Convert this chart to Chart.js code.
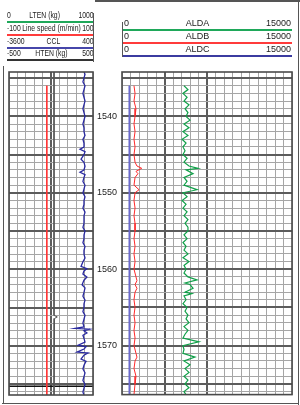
<!DOCTYPE html>
<html><head><meta charset="utf-8">
<script src="https://cdn.jsdelivr.net/npm/chart.js@4"></script>
<style>
html,body{margin:0;padding:0;background:#fff;}
#wrap{position:relative;width:300px;height:405px;overflow:hidden;font-family:"Liberation Sans",Arial,sans-serif;color:#222;}
canvas{position:absolute;left:0;top:0;}
.ln{position:absolute;}
.row{position:absolute;display:flex;justify-content:space-between;white-space:nowrap;}
</style></head>
<body><div id="wrap">
<canvas id="c1" width="300" height="405"></canvas>
<canvas id="c2" width="300" height="405"></canvas>
<div id="hdr"></div>
</div>
<script>
// ---------- DATA ----------
const depthMin = 1534.2, depthMax = 1576.4;
const depthLabels = [1540, 1550, 1560, 1570];

// left track header
const leftNames = ["LTEN (kg)", "Line speed (m/min)", "CCL", "HTEN (kg)"];
const leftMins  = ["0", "-100", "-3600", "-500"];
const leftMaxs  = ["1000", "100", "400", "500"];
// right track header
const rightNames = ["ALDA", "ALDB", "ALDC"];
const rightMins  = ["0", "0", "0"];
const rightMaxs  = ["15000", "15000", "15000"];

// CCL (-3600..400)
const cclDepth = [1534.2,1534.5,1535,1535.5,1536,1536.5,1537,1537.5,1538,1538.5,1539,1539.5,1540,1540.5,1541,1541.5,1542,1542.5,1543,1543.5,1544,1544.3,1544.6,1545,1545.6,1546,1546.5,1547,1547.3,1547.6,1548,1548.5,1549,1549.5,1550,1550.5,1551,1551.5,1552,1552.5,1553,1554,1554.5,1555,1555.5,1556,1556.5,1557,1557.5,1558,1558.5,1559,1559.6,1559.9,1560.2,1560.6,1561,1561.4,1562,1562.4,1563,1563.5,1564,1564.5,1565,1565.5,1566,1566.5,1567,1567.5,1567.7,1567.8,1568,1568.3,1568.6,1569,1569.5,1569.9,1570.1,1570.4,1570.8,1570.9,1571.2,1571.7,1572,1572.5,1573,1573.5,1574,1574.5,1575,1575.5,1576,1576.4];
const cclVal   = [-30,20,-30,-80,20,-30,-80,-30,20,-30,-80,-30,20,-30,-80,-30,-30,20,-80,-30,-30,-220,20,-30,-170,-30,20,-30,-220,20,-30,-80,20,-30,-80,20,-30,-30,-80,20,-30,-30,-80,20,-30,-30,-80,20,-30,-30,20,-80,-170,110,-30,-80,110,-30,-120,20,-30,-80,20,-30,-30,-80,20,-30,-80,-30,-460,260,-30,110,-80,-30,20,-310,70,-30,-360,160,-30,-170,70,-30,-80,20,-30,-80,20,-30,-80,-30];

// Line speed (-100..100)
const lsDepth = [1536, 1576.4];
const lsVal   = [-10, -10];

// HTEN (-500..500)
const htDepth = [1534.2, 1566.0, 1566.2, 1566.4, 1576.4];
const htVal   = [36, 36, 75, 42, 36];

// TD marker depth
const markerDepth = [1575.25];

// ALDA (0..15000)
const aldaDepth = [1536,1536.5,1537,1537.5,1538,1538.5,1539,1539.5,1540,1540.5,1541,1541.5,1542,1542.5,1543,1543.5,1544,1544.5,1545,1545.5,1546,1546.5,1546.8,1547,1547.5,1548,1548.5,1549,1549.6,1550,1550.5,1551,1551.5,1552,1552.5,1553,1553.5,1554,1554.5,1555,1555.5,1556,1556.5,1557,1557.5,1558,1558.5,1559,1559.5,1560,1560.5,1561,1561.4,1561.8,1562,1562.5,1563,1563.2,1563.5,1564,1564.5,1565,1565.5,1566,1566.5,1567,1567.5,1568,1568.5,1569,1569.5,1570,1570.5,1571,1571.5,1572,1572.5,1573,1573.5,1574,1574.5,1575,1575.5,1576,1576.4];
const aldaVal   = [5470,5820,5380,5740,5470,5910,5560,5820,5650,6000,5470,5910,5380,5820,5300,5650,5380,5560,5380,5740,5470,5910,6710,5650,6270,5470,5740,5470,6620,5380,5740,5300,5650,5380,5740,5470,5820,5560,5820,5820,5470,5740,5380,5650,5470,5820,5380,5910,5470,5650,5470,5820,6620,5560,6000,6270,5560,6180,5470,5650,5380,5740,5560,5820,5650,5910,5470,5820,5560,5380,6790,5380,5470,5380,6440,5470,6000,5560,5910,5470,5820,5560,5910,5470,5650];

// ALDB (0..15000)
const aldbDepth = [1536,1537,1538,1539,1540,1541,1542,1543,1544,1545,1546,1546.5,1546.8,1547.2,1547.5,1548,1549,1549.6,1550,1551,1552,1553,1554,1555,1556,1557,1558,1559,1560,1561,1561.5,1562,1562.5,1563,1564,1565,1566,1567,1568,1569,1570,1571,1571.5,1572,1573,1574,1575,1576.4];
const aldbVal   = [1060,1150,1060,1235,1150,1060,1150,1060,1150,1060,1150,1320,1740,1235,1410,1150,1060,1500,1150,1060,1150,1060,1150,1150,1060,1150,1060,1150,1060,1235,1320,1150,1320,1150,1060,1150,1060,1150,1060,1150,1060,1235,1320,1150,1060,1235,1150,1060];

// ALDC (0..15000)
const aldcDepth = [1536, 1550, 1560, 1576.4];
const aldcVal   = [640, 650, 640, 645];

// ---------- RENDER ----------
const MINOR = '#a6a6a6', MAJOR = '#5c5c5c';
const pts = (d, v) => d.map((y, i) => ({x: v[i], y}));
const gridDepths = [];
for (let d = Math.ceil(depthMin); d <= Math.floor(depthMax); d++) gridDepths.push(d);

const frame = {id:'frame', afterDraw(chart){
  const a = chart.chartArea, c = chart.ctx;
  c.save(); c.strokeStyle = '#4a4a4a'; c.lineWidth = 1.6;
  c.strokeRect(a.left, a.top, a.right - a.left, a.bottom - a.top); c.restore();
}};

function yScale(showLabels, w){
  return {
    type:'linear', reverse:true, min:depthMin, max:depthMax,
    afterBuildTicks: s => { s.ticks = gridDepths.map(v => ({value:v})); },
    afterFit: s => { s.width = w; },
    border:{display:false},
    grid:{drawTicks:false,
      color: c => (c.tick && c.tick.value % 5 === 0) ? MAJOR : MINOR,
      lineWidth: c => (c.tick && c.tick.value % 5 === 0) ? 2 : 1},
    ticks:{display:showLabels, padding:5, autoSkip:false, color:'#222',
      font:{size:9, family:'"Liberation Sans", Arial, sans-serif'},
      callback: v => depthLabels.includes(v) ? String(v) : ''}
  };
}
const hidden = (min, max) => ({type:'linear', axis:'x', display:false, min, max});
const line = (data, color, w, axis) => ({data, xAxisID:axis, borderColor:color, borderWidth:w,
  showLine:true, pointRadius:0, fill:false, tension:0});
const baseOpts = pad => ({responsive:false, animation:false, events:[],
  layout:{padding:pad}, plugins:{legend:{display:false}, tooltip:{enabled:false}}});

// left track
new Chart(document.getElementById('c1'), {
  type:'scatter',
  data:{datasets:[
    line(pts(htDepth, htVal), '#555', 1, 'ht'),
    line(pts(lsDepth, lsVal), '#ff3333', 1, 'ls'),
    line(pts(cclDepth, cclVal), '#2a2aa0', 1.3, 'ccl'),
    line([{x:-3600, y:markerDepth[0]}, {x:400, y:markerDepth[0]}], '#111', 1.6, 'ccl')
  ]},
  options:Object.assign(baseOpts({left:9, right:207, top:72, bottom:10}), {
    scales:{
      g:{type:'linear', axis:'x', position:'bottom', min:0, max:10,
        afterBuildTicks: s => { const t=[]; for(let i=0;i<=10;i++) t.push({value:i}); s.ticks=t; },
        afterFit: s => { s.height = 0; },
        border:{display:false}, ticks:{display:false},
        grid:{drawTicks:false, color: c => c.index === 5 ? MAJOR : MINOR, lineWidth: c => c.index === 5 ? 2 : 1}},
      ccl:hidden(-3600, 400), ls:hidden(-100, 100), ht:hidden(-500, 500),
      y:yScale(false, 0)
    }}),
  plugins:[frame]
});

// right track
new Chart(document.getElementById('c2'), {
  type:'scatter',
  data:{datasets:[
    line(pts(aldcDepth, aldcVal), '#6a6acc', 1, 'x'),
    line(pts(aldbDepth, aldbVal), '#ff2a2a', 1, 'x'),
    line(pts(aldaDepth, aldaVal), '#12a04a', 1.2, 'x')
  ]},
  options:Object.assign(baseOpts({left:96, right:8, top:72, bottom:10}), {
    scales:{
      x:{type:'linear', position:'bottom', min:0, max:15000,
        afterBuildTicks: s => { const t=[]; for(let i=0;i<=20;i++) t.push({value:i*750}); s.ticks=t; },
        afterFit: s => { s.height = 0; },
        border:{display:false}, ticks:{display:false},
        grid:{drawTicks:false, color: c => (c.index === 5 || c.index === 10) ? MAJOR : MINOR,
          lineWidth: c => (c.index === 5 || c.index === 10) ? 2 : 1}},
      y:yScale(true, 26)
    }}),
  plugins:[frame]
});

// headers
const hdr = document.getElementById('hdr');
function add(html){ hdr.insertAdjacentHTML('beforeend', html); }
function hline(x, y, w, h, col){ add(`<div class="ln" style="left:${x}px;top:${y}px;width:${w}px;height:${h}px;background:${col}"></div>`); }
const leftCols = ['#1fa85a', '#ff3b3b', '#4646aa', '#333'];
const leftY = [16, 29, 42, 54];
leftNames.forEach((n, i) => {
  add(`<div class="row" style="left:7px;top:${leftY[i]-6}px;width:114px;font-size:9px;line-height:11px;transform:scaleX(0.76);transform-origin:0 0"><span>${leftMins[i]}</span><span>${n}</span><span>${leftMaxs[i]}</span></div>`);
  hline(7, leftY[i]+5, 86, 2, leftCols[i]);
});
hline(93, 13, 1.3, 49, '#555');
const rightCols = ['#1fa85a', '#ff3b3b', '#3b3ba0'];
const rightY = [24, 37, 50];
rightNames.forEach((n, i) => {
  add(`<div class="row" style="left:124px;top:${rightY[i]-6}px;width:167px;font-size:9px;line-height:11px"><span>${rightMins[i]}</span><span>${n}</span><span>${rightMaxs[i]}</span></div>`);
  hline(122, rightY[i]+5, 170, 2, rightCols[i]);
});
hline(121.5, 22, 1.3, 35, '#555');
// outer frame
hline(95, 0, 205, 1.5, '#555');
hline(297.5, 0, 1.5, 405, '#555');
hline(2, 402.5, 297, 1.5, '#555');
hline(2.5, 66, 1.5, 338, '#555');
</script>
</body></html>
